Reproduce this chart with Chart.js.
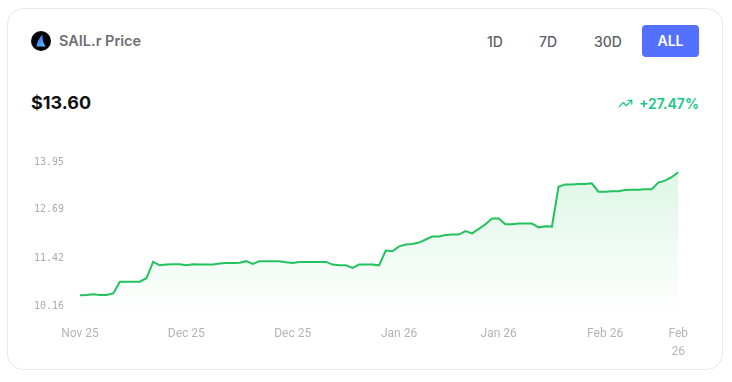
<!DOCTYPE html>
<html>
<head>
<meta charset="utf-8">
<script src="https://cdn.jsdelivr.net/npm/chart.js@4.4.1/dist/chart.umd.min.js"></script>
<style>
  body { margin: 0; background: #fff; font-family: Inter, "Noto Sans", sans-serif; }
  .card { position: absolute; left: 7px; top: 8px; width: 714px; height: 360px; border: 1px solid #e9e9ec; border-radius: 16px; background: #fff; }
  .logo { position: absolute; left: 31px; top: 31px; width: 20px; height: 20px; }
  .title { position: absolute; left: 59px; top: 32px; font-size: 14.5px; font-weight: 600; color: #6e6e73; }
  .range { position: absolute; top: 33px; font-size: 14px; font-weight: 500; color: #5f5f66; }
  .btn-all { position: absolute; left: 642px; top: 25px; width: 57px; height: 32px; border-radius: 4px; background: #5470ff; color: #fff; font-size: 14px; font-weight: 600; text-align: center; line-height: 32px; }
  .price { position: absolute; left: 31px; top: 92px; font-size: 18px; font-weight: 700; color: #111; }
  .change { position: absolute; right: 33px; top: 95px; font-size: 14px; font-weight: 600; color: #16c784; display: flex; align-items: center; gap: 6px; }
  .chart-box { position: absolute; left: 20px; top: 140px; width: 687px; height: 240px; }
</style>
</head>
<body>
<div class="card"></div>
<svg class="logo" viewBox="0 0 20 20">
  <defs>
    <linearGradient id="sail" x1="0" y1="0" x2="1" y2="1">
      <stop offset="0" stop-color="#1e6bff"/>
      <stop offset="1" stop-color="#6fc3ff"/>
    </linearGradient>
  </defs>
  <circle cx="10" cy="10" r="10" fill="#050505"/>
  <path d="M11.5 3.5 C8 7 6 11 5.5 15.5 L14.5 15.5 C12 12 11.2 8 11.5 3.5 Z" fill="url(#sail)"/>
</svg>
<div class="title">SAIL.r Price</div>
<div class="range" style="left:487px">1D</div>
<div class="range" style="left:539px">7D</div>
<div class="range" style="left:594px">30D</div>
<div class="btn-all">ALL</div>
<div class="price">$13.60</div>
<div class="change">
  <svg width="15" height="15" viewBox="0 0 24 24" fill="none" stroke="#16c784" stroke-width="2" stroke-linecap="round" stroke-linejoin="round">
    <polyline points="22 7 13.5 15.5 8.5 10.5 2 17"></polyline>
    <polyline points="16 7 22 7 22 13"></polyline>
  </svg>
  <span>+27.47%</span>
</div>
<div class="chart-box"><canvas id="priceChart"></canvas></div>

<script>
// daily closes, Nov 20 2025 -> Feb 18 2026
const prices = [
  10.44, 10.45, 10.47, 10.45, 10.45, 10.49, 10.80, 10.80, 10.80, 10.80,
  10.89, 11.32, 11.23, 11.25, 11.26, 11.26, 11.23, 11.26, 11.25, 11.25,
  11.25, 11.28, 11.29, 11.29, 11.30, 11.34, 11.27, 11.34, 11.34, 11.34,
  11.34, 11.31, 11.29, 11.32, 11.32, 11.32, 11.32, 11.32, 11.25, 11.23,
  11.23, 11.16, 11.25, 11.25, 11.25, 11.23, 11.62, 11.60, 11.73, 11.78,
  11.79, 11.83, 11.91, 11.99, 11.99, 12.03, 12.04, 12.04, 12.13, 12.07,
  12.19, 12.31, 12.46, 12.46, 12.31, 12.31, 12.33, 12.33, 12.33, 12.23,
  12.26, 12.25, 13.30, 13.36, 13.36, 13.37, 13.37, 13.39, 13.17, 13.17,
  13.18, 13.18, 13.21, 13.22, 13.22, 13.23, 13.23, 13.41, 13.46, 13.55,
  13.68
];
const yTicks = [10.16, 11.42, 12.69, 13.95];
const xTickIndex = [0, 16, 32, 48, 63, 79, 90];
const xTickLabels = ['Nov 25', 'Dec 25', 'Dec 25', 'Jan 26', 'Jan 26', 'Feb 26', ['Feb', '26']];

// one category per day
const days = [];
const start = new Date(2025, 10, 20);
for (let i = 0; i < prices.length; i++) {
  const d = new Date(start);
  d.setDate(start.getDate() + i);
  days.push(d.toISOString().slice(0, 10));
}

const ctx = document.getElementById('priceChart');

new Chart(ctx, {
  type: 'line',
  data: {
    labels: days,
    datasets: [{
      data: prices,
      borderColor: '#22c25d',
      borderWidth: 2,
      pointRadius: 0,
      tension: 0,
      fill: 'start',
      backgroundColor: function (c) {
        const area = c.chart.chartArea;
        if (!area) return 'rgba(34,194,93,0.1)';
        const g = c.chart.ctx.createLinearGradient(0, area.top, 0, area.bottom);
        g.addColorStop(0, 'rgba(34,194,93,0.16)');
        g.addColorStop(1, 'rgba(34,194,93,0.01)');
        return g;
      }
    }]
  },
  options: {
    responsive: true,
    maintainAspectRatio: false,
    animation: false,
    layout: { padding: 0 },
    plugins: {
      legend: { display: false },
      tooltip: { enabled: false }
    },
    scales: {
      x: {
        grid: { display: false, drawTicks: false },
        border: { display: false },
        ticks: {
          autoSkip: false,
          maxRotation: 0,
          padding: 19,
          color: '#b4b4b8',
          font: { family: 'Roboto', size: 12, lineHeight: '18px' },
          callback: function (val, idx) {
            const k = xTickIndex.indexOf(idx);
            return k >= 0 ? xTickLabels[k] : '';
          }
        }
      },
      y: {
        min: yTicks[0],
        max: yTicks[yTicks.length - 1],
        grid: { display: false, drawTicks: false },
        border: { display: false },
        afterBuildTicks: function (axis) {
          axis.ticks = yTicks.map(v => ({ value: v }));
        },
        afterFit: function (axis) { axis.width = 60; },
        ticks: {
          padding: 16,
          color: '#ababb0',
          font: { family: 'DejaVu Sans Mono', size: 10 },
          callback: v => v.toFixed(2)
        }
      }
    }
  }
});
</script>
</body>
</html>
